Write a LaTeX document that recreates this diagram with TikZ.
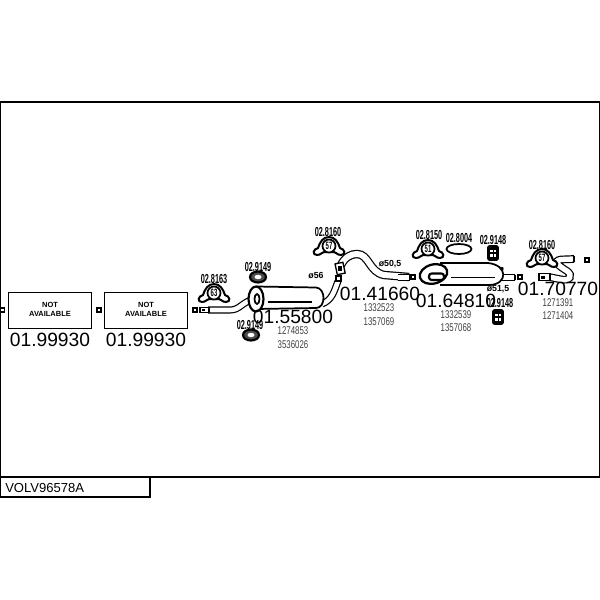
\documentclass[tikz,border=0pt]{standalone}
\usepackage{fontspec}
\setmainfont{Liberation Sans}
\newfontfamily\condfont[FakeStretch=0.7]{Liberation Sans}
\newfontfamily\condbold[FakeStretch=0.56]{Liberation Sans Bold}
\tikzset{
  refnum/.style = {inner sep=0, font=\fontsize{14.4pt}{15pt}\selectfont},
  oemnum/.style = {inner sep=0, text=black!75, font=\condfont\fontsize{8.4pt}{9pt}\selectfont},
  partnum/.style = {inner sep=0, font=\condbold\fontsize{9.8pt}{10pt}\selectfont},
  dia/.style = {inner sep=0, font=\bfseries\fontsize{6.6pt}{7pt}\selectfont},
  natext/.style = {inner sep=0, align=center, font=\bfseries\fontsize{5.6pt}{6.8pt}\selectfont},
  nabox/.style = {draw, line width=0.9pt, minimum width=62.5pt, minimum height=27.5pt, inner sep=0},
  dot/.style = {draw, line width=0.8pt, minimum size=3pt, inner sep=0},
  pipe/.style = {draw=black, double=white, double distance=3.5pt, line width=0.9pt},
  body/.style = {draw=black, fill=white, line width=1.3pt},
  pics/hanger/.style = {code={
    \draw[body, line width=1.5pt] (-12,9) .. controls (-17,9) and (-16,3) .. (-11,2) .. controls (-9,-4) and (-6,-9) .. (0,-9)
      .. controls (6,-9) and (9,-4) .. (11,2) .. controls (16,3) and (17,9) .. (12,9)
      .. controls (8,9) and (7,6) .. (5,6) -- (-5,6) .. controls (-7,6) and (-8,9) .. (-12,9) -- cycle;
    \draw[body] (0,0) circle [radius=6.5];
    \node[inner sep=0, font=\condbold\fontsize{8pt}{8pt}\selectfont] at (0,0) {#1};
  }},
  pics/rubber/.style = {code={
    \draw[fill=black, rounded corners=1.5pt] (-5.5,-7.5) rectangle (5.5,7.5);
    \fill[white] (-3,-3.5) rectangle (-0.5,-1);
    \fill[white] (0.5,-3.5) rectangle (3,-1);
    \fill[white] (-3,1) rectangle (-0.5,3.5);
    \fill[white] (0.5,1) rectangle (3,3.5);
  }},
  pics/ring/.style = {code={
    \draw[draw=black, fill=black!70, line width=1.6pt] (0,0) ellipse [x radius=8, y radius=5.5];
    \fill[white] (0,0) ellipse [x radius=3.5, y radius=2.2];
  }}
}
\begin{document}
\begin{tikzpicture}[x=0.75pt, y=-0.75pt]
\useasboundingbox (0,0) rectangle (600,600);

% frame and title
\draw[line width=0.9pt] (0,102) rectangle (600,477);
\draw[line width=0.9pt] (0,477) rectangle (150,497);
\node[inner sep=0, anchor=west, font=\fontsize{9.8pt}{11pt}\selectfont] (title) at (5,488) {VOLV96578A};

% not available boxes
\node[nabox] (boxa) at (50,310.5) {};
\node[nabox] (boxb) at (146,310.5) {};
\node[natext] (texta) at (50,309) {NOT\\AVAILABLE};
\node[natext] (textb) at (146,309) {NOT\\AVAILABLE};
\node[refnum] (refa) at (50,340) {01.99930};
\node[refnum] (refb) at (146,340) {01.99930};

% small squares
\node[dot] (dota) at (2.5,310) {};
\node[dot] (dotb) at (99,310) {};
\node[dot] (dotc) at (195,310) {};
\node[dot] (dotd) at (413,277) {};
\node[dot] (dote) at (520,277) {};
\node[dot] (dotf) at (587,260) {};

% front silencer
\draw[pipe] (208,310) -- (230,310) .. controls (240,310) and (242,302) .. (254,299);
\draw[body, line width=1pt] (200,307.5) rectangle (209,312.5);
\fill (202,309) rectangle (205,311);
\draw[pipe] (322,304) .. controls (332,300) and (334,292) .. (338,281);
\draw[line width=1pt, fill=white] (336,276) rectangle (341,281);
\draw[body] (256,286.5) -- (316,287.5) .. controls (326,288) and (326,308) .. (316,308) -- (256,309);
\draw[body, line width=1.6pt] (256,299) ellipse [x radius=7.5, y radius=12.5];
\draw[body] (257,299) ellipse [x radius=2.5, y radius=5];
\draw[line width=1.2pt] (268,302) -- (312,302);

% middle pipe
\draw[pipe, double distance=4.5pt] (341,265) .. controls (345,257) and (351,254) .. (357,254)
  .. controls (369,254) and (369,272) .. (384,275) -- (409,277);
\draw[line width=0.9pt] (409,273.7) -- (409,280.5);
\draw[body, line width=1pt, rotate around={12:(340,268)}] (336,263) rectangle (344,274);
\fill (338,266) rectangle (342,271);

% rear silencer
\draw[pipe, double distance=3.7pt] (398,277.5) -- (409,277.5);
\draw[pipe, double distance=3.7pt] (500,277.5) -- (515,277.5);
\draw[line width=0.9pt] (515,274.6) -- (515,280.4);
\draw[fill=black] (495,266.5) -- (503,267.5) -- (503,270) -- (497,270) -- cycle;
\draw[body] (440,263) -- (488,263) .. controls (508,265) and (508,284) .. (490,285) -- (440,285);
\draw[body, line width=1.7pt, rotate around={15:(433.5,274)}] (433.5,274) ellipse [x radius=14, y radius=9.5];
\draw[body, line width=1.6pt, rounded corners=2pt] (429,273.5) rectangle (444,280);
\draw[line width=1.2pt] (451,277.5) -- (495,277.5);

% tail pipe
\draw[pipe, double distance=4pt] (549,277) -- (559,279) .. controls (571,282) and (573,275) .. (567,271)
  .. controls (559,266) and (552,261) .. (561,259.5) -- (574,259);
\draw[line width=0.9pt] (574,255.8) -- (574,262.2);
\draw[body, line width=1pt] (539,273.5) rectangle (550,280.5);
\fill (541,275.5) rectangle (545,278.5);

% hangers and rubbers
\pic at (214,293) {hanger=63};
\pic at (329,246) {hanger=57};
\pic at (428,249) {hanger=51};
\pic at (542,258) {hanger=57};
\pic at (258,277) {ring};
\pic at (251,335) {ring};
\pic at (493,253) {rubber};
\pic at (498,317) {rubber};
\draw[line width=1.3pt, fill=white] (459,249) ellipse [x radius=12.5, y radius=5];

% part numbers
\node[partnum] (p8163) at (214,279) {02.8163};
\node[partnum] (p9149a) at (258,267) {02.9149};
\node[partnum] (p9149b) at (250,325) {02.9149};
\node[partnum] (p8160a) at (328,232) {02.8160};
\node[partnum] (p8150) at (429,235) {02.8150};
\node[partnum] (p8004) at (459,238) {02.8004};
\node[partnum] (p9148a) at (493,240) {02.9148};
\node[partnum] (p9148b) at (500,303) {02.9148};
\node[partnum] (p8160b) at (542,245) {02.8160};

% diameters
\node[dia] (dia56) at (316,276) {ø56};
\node[dia] (dia505) at (390,264) {ø50,5};
\node[dia] (dia515) at (498,289) {ø51,5};

% reference numbers
\node[refnum] (refc) at (293,317) {01.55800};
\node[refnum] (refd) at (380,294) {01.41660};
\node[refnum] (refe) at (456,301) {01.64810};
\node[refnum] (reff) at (558,289) {01.70770};

% oem numbers
\node[oemnum] (oema) at (293,331) {1274853};
\node[oemnum] (oemb) at (293,345) {3536026};
\node[oemnum] (oemc) at (379,308) {1332523};
\node[oemnum] (oemd) at (379,322) {1357069};
\node[oemnum] (oeme) at (456,315) {1332539};
\node[oemnum] (oemf) at (456,328) {1357068};
\node[oemnum] (oemg) at (558,303) {1271391};
\node[oemnum] (oemh) at (558,316) {1271404};
\end{tikzpicture}
\end{document}
